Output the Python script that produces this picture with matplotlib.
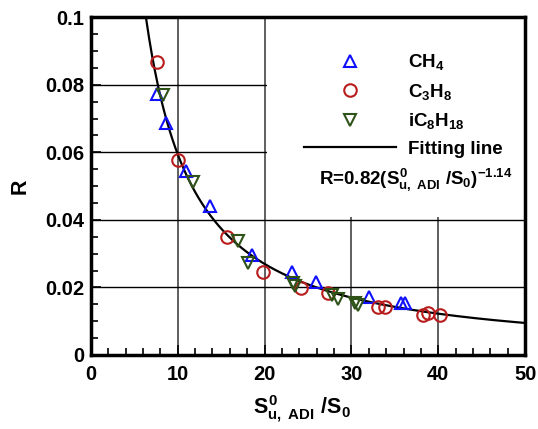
import numpy as np
import matplotlib
matplotlib.use("Agg")
import matplotlib.pyplot as plt
from matplotlib.ticker import MultipleLocator, FuncFormatter
from matplotlib.patches import Rectangle

plt.rcParams['font.family'] = ['Liberation Sans', 'DejaVu Sans']
plt.rcParams['font.weight'] = 'bold'
plt.rcParams['mathtext.fontset'] = 'custom'
plt.rcParams['mathtext.rm'] = 'Liberation Sans:bold'
plt.rcParams['mathtext.it'] = 'Liberation Sans:bold'
plt.rcParams['mathtext.bf'] = 'Liberation Sans:bold'

ch4_x = [7.6, 8.6, 10.9, 13.7, 18.5, 23.2, 25.9, 32.0, 35.7, 36.2]
ch4_y = [0.0772, 0.0686, 0.0544, 0.0441, 0.0296, 0.0246, 0.0216, 0.0172, 0.0153, 0.0153]
c3h8_x = [7.6, 10.0, 15.7, 19.8, 24.2, 27.3, 33.1, 33.9, 38.2, 38.8, 40.2]
c3h8_y = [0.0867, 0.0577, 0.0348, 0.0246, 0.0198, 0.0183, 0.0142, 0.0142, 0.0118, 0.0124, 0.0118]
ic8_x = [8.3, 11.8, 16.9, 18.1, 23.3, 23.5, 27.8, 28.5, 30.4, 30.8]
ic8_y = [0.0769, 0.0512, 0.0337, 0.0272, 0.0213, 0.0204, 0.0178, 0.0166, 0.0154, 0.0148]
fit_a = 0.82
fit_b = -1.14

fig = plt.figure(figsize=(5.38, 4.29), dpi=100)
ax = fig.add_axes([0.169, 0.1725, 0.807, 0.7875])

xf = np.linspace(5, 50, 400)
ax.plot(xf, fit_a * xf ** fit_b, color='black', lw=1.6, label='Fitting line', zorder=3)
ms = 9
ax.plot(ch4_x, ch4_y, '^', ms=ms, mfc='none', mec='#1010ff', mew=1.5, label='CH$_4$', zorder=4)
ax.plot(c3h8_x, c3h8_y, 'o', ms=ms, mfc='none', mec='#b81c1c', mew=1.5, label='C$_3$H$_8$', zorder=4)
ax.plot(ic8_x, ic8_y, 'v', ms=ms, mfc='none', mec='#2e5218', mew=1.5, label='iC$_8$H$_{18}$', zorder=4)

ax.set_xlim(0, 50)
ax.set_ylim(0, 0.1)
ax.xaxis.set_major_locator(MultipleLocator(10))
ax.xaxis.set_minor_locator(MultipleLocator(2))
ax.yaxis.set_major_locator(MultipleLocator(0.02))
ax.yaxis.set_minor_locator(MultipleLocator(0.005))
ax.yaxis.set_major_formatter(FuncFormatter(lambda v, p: f'{v:g}'))
ax.xaxis.grid(True, which='major', color='#444444', lw=1.2)
ax.yaxis.grid(True, which='major', color='black', lw=1)
ax.tick_params(which='both', direction='in', labelsize=14.5, width=1.2)
ax.tick_params(axis='x', which='major', length=7, pad=7)
ax.tick_params(axis='y', which='major', length=7, pad=5)
ax.tick_params(which='minor', length=5)
for s in ax.spines.values():
    s.set_linewidth(2.5)
    s.set_zorder(8)
for lab in ax.get_xticklabels() + ax.get_yticklabels():
    lab.set_fontweight('bold')

# white panel behind the legend (covers the grid)
ax.add_patch(Rectangle((0.405, 0.408), 0.595, 0.592, transform=ax.transAxes,
                       facecolor='white', edgecolor='none', zorder=2.7))

ax.set_xlabel(r'$S^0_{u,\ ADI}\ /S_0$', fontsize=15.5, labelpad=10)
ax.xaxis.set_label_coords(0.485, -0.115)
ax.set_ylabel('R', fontsize=15.5, fontweight='bold', labelpad=10)

h, l = ax.get_legend_handles_labels()
order = [1, 2, 3, 0]
leg = ax.legend([h[i] for i in order], [l[i] for i in order], loc='upper left',
                bbox_to_anchor=(0.474, 0.918), frameon=False, fontsize=13.5,
                handlelength=4.9, labelspacing=0.5, handletextpad=0.65,
                borderaxespad=0)
leg.set_zorder(6)
for t in leg.get_texts():
    t.set_fontweight('bold')
ax.text(0.748, 0.518, r'R=0.82$(S^0_{u,\ ADI}\ /S_0)^{-1.14}$', transform=ax.transAxes,
        fontsize=13.5, fontweight='bold', ha='center', va='center', zorder=6)

fig.savefig('out.png', dpi=100)
